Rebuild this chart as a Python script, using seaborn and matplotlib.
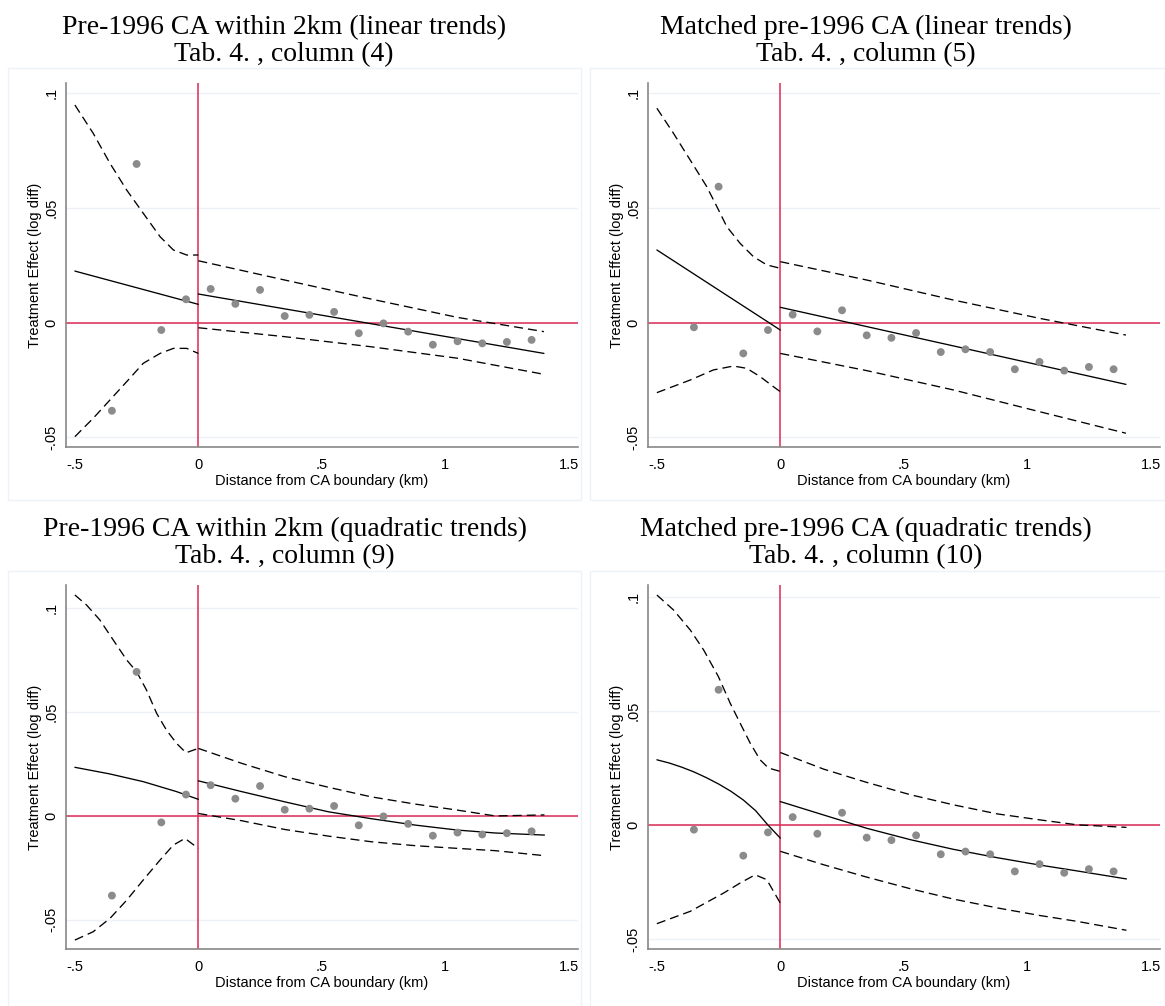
import matplotlib
matplotlib.use("Agg")
import matplotlib.pyplot as plt
from matplotlib.patches import Rectangle
import seaborn as sns

# --- DATA ---
BIN_X = [-0.35, -0.25, -0.15, -0.05, 0.05, 0.15, 0.25, 0.35, 0.45,
         0.55, 0.65, 0.75, 0.85, 0.95, 1.05, 1.15, 1.25, 1.35]
FULL_BINS = [-0.0384, 0.0692, -0.0032, 0.0102, 0.0147, 0.0082, 0.0143, 0.0029, 0.0034,
             0.0047, -0.0046, -0.0003, -0.0039, -0.0096, -0.0081, -0.0090, -0.0084, -0.0075]
MATCHED_BINS = [-0.0020, 0.0593, -0.0134, -0.0032, 0.0035, -0.0038, 0.0054, -0.0055, -0.0066,
                -0.0045, -0.0128, -0.0116, -0.0128, -0.0203, -0.0171, -0.0209, -0.0193, -0.0203]

# panel 1: full sample, linear trends
P1_LEFT_X = [-0.5, -0.426, -0.358, -0.29, -0.223, -0.155, -0.101, -0.047, 0.0]
P1_LEFT_HI = [0.0949, 0.0826, 0.0695, 0.0578, 0.0477, 0.0375, 0.0317, 0.0295, 0.0295]
P1_LEFT_LO = [-0.0497, -0.0417, -0.0337, -0.0257, -0.0177, -0.0134, -0.0112, -0.0112, -0.0134]
P1_LEFT_FIT_X = [-0.5, 0.0]
P1_LEFT_FIT = [0.0225, 0.0080]
P1_RIGHT_X = [0.0, 0.35, 0.7, 1.05, 1.4]
P1_RIGHT_HI = [0.0270, 0.0186, 0.0103, 0.0023, -0.0039]
P1_RIGHT_LO = [-0.0022, -0.0061, -0.0105, -0.0155, -0.0225]
P1_RIGHT_FIT_X = [0.0, 1.4]
P1_RIGHT_FIT = [0.0125, -0.0134]

# panel 2: matched, linear trends
P2_LEFT_HI_X = [-0.5, -0.433, -0.365, -0.298, -0.257, -0.217, -0.163, -0.109, -0.055, 0.0]
P2_LEFT_HI = [0.0935, 0.0826, 0.0709, 0.0593, 0.0506, 0.0419, 0.0346, 0.0288, 0.0252, 0.0237]
P2_LEFT_LO_X = [-0.5, -0.365, -0.271, -0.19, -0.136, -0.082, -0.028, 0.0]
P2_LEFT_LO = [-0.0305, -0.0250, -0.0206, -0.0189, -0.0199, -0.0235, -0.0279, -0.0301]
P2_LEFT_FIT_X = [-0.5, 0.0]
P2_LEFT_FIT = [0.0317, -0.0032]
P2_RIGHT_X = [0.0, 0.35, 0.7, 1.05, 1.4]
P2_RIGHT_HI = [0.0266, 0.0186, 0.0099, 0.0019, -0.0054]
P2_RIGHT_LO = [-0.0134, -0.0209, -0.0293, -0.0388, -0.0482]
P2_RIGHT_FIT_X = [0.0, 1.4]
P2_RIGHT_FIT = [0.0067, -0.0269]

# panel 3: full sample, quadratic trends
P3_LEFT_HI_X = [-0.5, -0.453, -0.399, -0.345, -0.29, -0.25, -0.21, -0.169, -0.129, -0.088, -0.05, 0.0]
P3_LEFT_HI = [0.1062, 0.1014, 0.0942, 0.0846, 0.0749, 0.0693, 0.0605, 0.0493, 0.0412, 0.0348, 0.0303, 0.0324]
P3_LEFT_LO_X = [-0.5, -0.426, -0.358, -0.29, -0.223, -0.155, -0.101, -0.054, 0.0]
P3_LEFT_LO = [-0.0598, -0.0558, -0.0494, -0.0406, -0.0309, -0.0213, -0.0141, -0.0109, -0.0157]
P3_LEFT_FIT_X = [-0.5, -0.358, -0.223, -0.088, 0.0]
P3_LEFT_FIT = [0.0233, 0.0201, 0.0164, 0.0116, 0.0079]
Q_RIGHT_X = [0.0, 0.176, 0.35, 0.527, 0.70, 0.879, 1.05, 1.203, 1.402]
P3_RIGHT_HI = [0.0324, 0.0252, 0.0188, 0.0137, 0.0091, 0.0056, 0.0027, -0.0001, 0.0004]
P3_RIGHT_FIT = [0.0168, 0.0116, 0.0067, 0.0019, -0.0014, -0.0045, -0.0069, -0.0083, -0.0093]
P3_RIGHT_LO = [0.0011, -0.0024, -0.0066, -0.0098, -0.0125, -0.0144, -0.0157, -0.0168, -0.0192]

# panel 4: matched, quadratic trends
P4_LEFT_HI_X = [-0.5, -0.433, -0.365, -0.311, -0.251, -0.203, -0.163, -0.122, -0.082, -0.048, 0.0]
P4_LEFT_HI = [0.1008, 0.0943, 0.0855, 0.0768, 0.0651, 0.0534, 0.0447, 0.0359, 0.0286, 0.0250, 0.0235]
P4_LEFT_LO_X = [-0.5, -0.365, -0.23, -0.163, -0.102, -0.055, 0.0]
P4_LEFT_LO = [-0.0432, -0.0378, -0.0298, -0.0254, -0.0218, -0.0239, -0.0342]
P4_LEFT_FIT_X = [-0.5, -0.45, -0.4, -0.35, -0.3, -0.25, -0.2, -0.15, -0.1, -0.05, 0.0]
P4_LEFT_FIT = [0.0286, 0.0272, 0.0254, 0.0233, 0.0208, 0.0180, 0.0148, 0.0110, 0.0063, 0.0000, -0.0057]
P4_RIGHT_HI = [0.0318, 0.0245, 0.0187, 0.0133, 0.0089, 0.0049, 0.0023, 0.0001, -0.0010]
P4_RIGHT_FIT = [0.0103, 0.0044, -0.0014, -0.0064, -0.0106, -0.0143, -0.0175, -0.0201, -0.0236]
P4_RIGHT_LO = [-0.0115, -0.0174, -0.0228, -0.0279, -0.0324, -0.0363, -0.0396, -0.0422, -0.0461]

TITLES = ["Pre-1996 CA within 2km (linear trends)\nTab. 4. , column (4)",
          "Matched pre-1996 CA (linear trends)\nTab. 4. , column (5)",
          "Pre-1996 CA within 2km (quadratic trends)\nTab. 4. , column (9)",
          "Matched pre-1996 CA (quadratic trends)\nTab. 4. , column (10)"]
X_TICKS = [-0.5, 0, 0.5, 1, 1.5]
X_TICK_LABELS = ["-.5", "0", ".5", "1", "1.5"]
Y_TICKS = [-0.05, 0, 0.05, 0.1]
Y_TICK_LABELS = ["-.05", "0", ".05", ".1"]
X_LABEL = "Distance from CA boundary (km)"
Y_LABEL = "Treatment Effect (log diff)"

# --- STYLE ---
W, H = 1165, 1006
RED = "#dc2a55"
DOT = "#8b8b8b"
SPINE = "#888888"
DASH = (0, (6.5, 3.6))

sns.set_style("white")
plt.rcParams["font.family"] = ["Liberation Sans", "DejaVu Sans"]
plt.rcParams["lines.scale_dashes"] = False
plt.rcParams["text.color"] = "black"
plt.rcParams["axes.labelcolor"] = "black"

fig = plt.figure(figsize=(W / 100, H / 100), dpi=100)


def px_rect(left, top, right, bottom):
    return [left / W, 1 - bottom / H, (right - left) / W, (bottom - top) / H]


panels = [
    dict(pos=(66, 83, 578, 447), ylim=(-0.0542, 0.1045), pts=FULL_BINS, title_xy=(284, 41),
         box=(8, 68, 581, 500),
         lines=[(P1_LEFT_X, P1_LEFT_HI, DASH), (P1_LEFT_X, P1_LEFT_LO, DASH),
                (P1_LEFT_FIT_X, P1_LEFT_FIT, "-"),
                (P1_RIGHT_X, P1_RIGHT_HI, DASH), (P1_RIGHT_X, P1_RIGHT_LO, DASH),
                (P1_RIGHT_FIT_X, P1_RIGHT_FIT, "-")]),
    dict(pos=(648, 83, 1160, 447), ylim=(-0.0542, 0.1045), pts=MATCHED_BINS, title_xy=(866, 41),
         box=(590, 68, 1165, 500),
         lines=[(P2_LEFT_HI_X, P2_LEFT_HI, DASH), (P2_LEFT_LO_X, P2_LEFT_LO, DASH),
                (P2_LEFT_FIT_X, P2_LEFT_FIT, "-"),
                (P2_RIGHT_X, P2_RIGHT_HI, DASH), (P2_RIGHT_X, P2_RIGHT_LO, DASH),
                (P2_RIGHT_FIT_X, P2_RIGHT_FIT, "-")]),
    dict(pos=(66, 585, 578, 949), ylim=(-0.0641, 0.111), pts=FULL_BINS, title_xy=(285, 543),
         box=(8, 571, 581, 1006),
         lines=[(P3_LEFT_HI_X, P3_LEFT_HI, DASH), (P3_LEFT_LO_X, P3_LEFT_LO, DASH),
                (P3_LEFT_FIT_X, P3_LEFT_FIT, "-"),
                (Q_RIGHT_X, P3_RIGHT_HI, DASH), (Q_RIGHT_X, P3_RIGHT_LO, DASH),
                (Q_RIGHT_X, P3_RIGHT_FIT, "-")]),
    dict(pos=(648, 585, 1160, 949), ylim=(-0.0543, 0.1052), pts=MATCHED_BINS, title_xy=(866, 543),
         box=(590, 571, 1165, 1006),
         lines=[(P4_LEFT_HI_X, P4_LEFT_HI, DASH), (P4_LEFT_LO_X, P4_LEFT_LO, DASH),
                (P4_LEFT_FIT_X, P4_LEFT_FIT, "-"),
                (Q_RIGHT_X, P4_RIGHT_HI, DASH), (Q_RIGHT_X, P4_RIGHT_LO, DASH),
                (Q_RIGHT_X, P4_RIGHT_FIT, "-")]),
]

for i, p in enumerate(panels):
    # faint frame round each graph region
    bl, bt, br, bb = p["box"]
    fig.patches.append(Rectangle((bl / W, 1 - bb / H), (br - bl) / W, (bb - bt) / H,
                                 transform=fig.transFigure, fill=False,
                                 edgecolor="#eef1f5", linewidth=1.0))
    ax = fig.add_axes(px_rect(*p["pos"]))
    ax.set_facecolor("white")

    for yt in Y_TICKS:
        ax.axhline(yt, color="#edf1f5", linewidth=1.0, zorder=0)
    ax.axhline(0, color=RED, linewidth=1.1, zorder=1)
    ax.axvline(0, color=RED, linewidth=1.1, zorder=1)

    for xs, ys, ls in p["lines"]:
        sns.lineplot(x=xs, y=ys, ax=ax, color="black", linewidth=0.95,
                     linestyle=ls, legend=False, zorder=2)
    sns.scatterplot(x=BIN_X, y=p["pts"], ax=ax, color=DOT, s=32,
                    edgecolor="none", linewidth=0, legend=False, zorder=3)

    ax.set_xlim(-0.536, 1.538)
    ax.set_ylim(*p["ylim"])
    ax.set_xticks(X_TICKS)
    ax.set_xticklabels(X_TICK_LABELS)
    ax.set_yticks(Y_TICKS)
    ax.set_yticklabels(Y_TICK_LABELS, rotation=90, va="center")
    ax.tick_params(axis="both", direction="out", length=5, width=1.0, color=SPINE,
                   labelsize=10.5, labelcolor="black")
    ax.tick_params(axis="x", pad=3)
    ax.tick_params(axis="y", pad=0.5)
    ax.set_xlabel(X_LABEL, fontsize=10.5, labelpad=1)
    ax.set_ylabel(Y_LABEL, fontsize=10.5, labelpad=2)
    for side in ["top", "right"]:
        ax.spines[side].set_visible(False)
    for side in ["left", "bottom"]:
        ax.spines[side].set_color(SPINE)
        ax.spines[side].set_linewidth(1.2)

    tx, ty = p["title_xy"]
    fig.text(tx / W, 1 - ty / H, TITLES[i], ha="center", va="center",
             family="Liberation Serif", fontsize=20, linespacing=1.12)

fig.savefig("out.png", dpi=100, facecolor="white")
